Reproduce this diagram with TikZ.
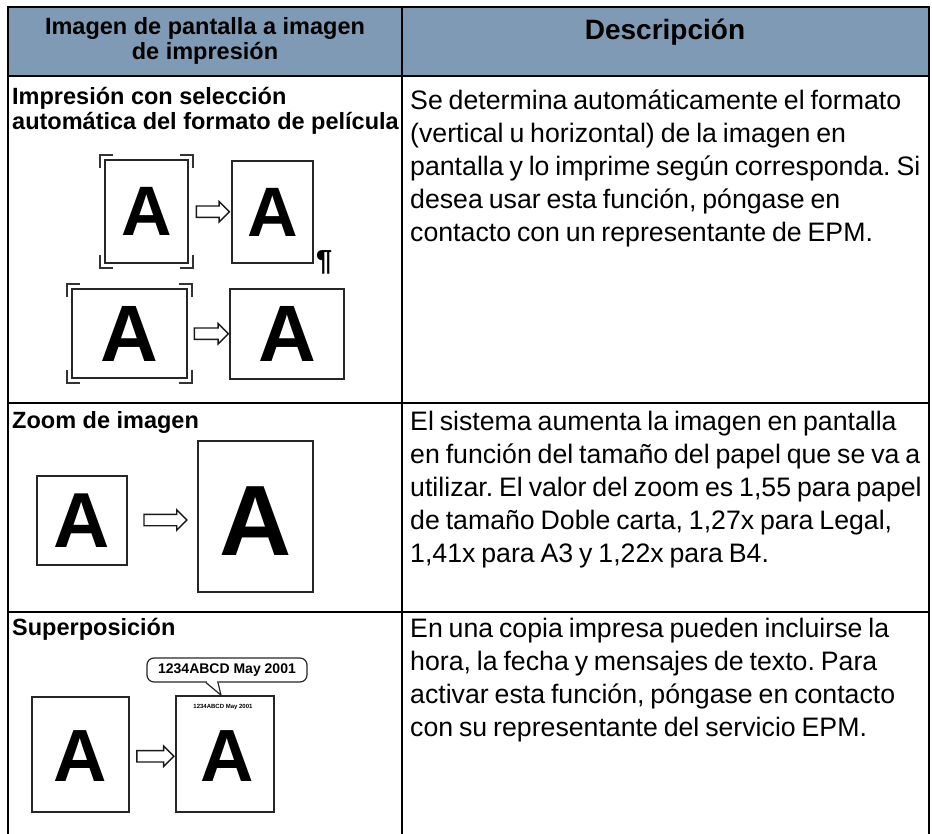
\documentclass[tikz,border=0pt]{standalone}
\usepackage{fontspec}
\setmainfont{Liberation Sans}
\usetikzlibrary{shapes.arrows,calc}
\definecolor{hdr}{RGB}{127,154,180}
\frenchspacing
\newcommand\mycorners[1]{%
 \draw[bracket] ([shift={(-4,9)}]#1.north west) -- ++(0,-13) -- ++(13,0);
 \draw[bracket] ([shift={(-9,-4)}]#1.north east) -- ++(13,0) -- ++(0,13);
 \draw[bracket] ([shift={(4,-9)}]#1.south east) -- ++(0,13) -- ++(-13,0);
 \draw[bracket] ([shift={(9,4)}]#1.south west) -- ++(-13,0) -- ++(0,-13);}
\newcommand\bodyfont{\fontsize{26.7}{33}\selectfont\spaceskip=0.22em\relax}
\begin{document}
\begin{tikzpicture}[x=1pt,y=-1pt,
  tbl/.style={line width=2pt},
  pagebox/.style={draw=black!85, line width=1.6pt, inner sep=0pt, fill=white, font=\bfseries},
  hollow/.style={single arrow, draw=black!90, line width=1.4pt, fill=white, inner sep=0pt,
     single arrow head extend=4.5pt},
  bracket/.style={line width=1.6pt, draw=black!80},
  bodytxt/.style={anchor=base west, inner sep=0pt, font=\bodyfont},
  lbl/.style={anchor=base west, inner sep=0pt, font=\fontsize{23.5}{25}\selectfont\bfseries},
  hdrl/.style={anchor=base, inner sep=0pt, font=\fontsize{23.5}{25}\selectfont\bfseries},
  hdrr/.style={anchor=base, inner sep=0pt, font=\fontsize{28}{30}\selectfont\bfseries}]
\useasboundingbox (0,0) rectangle (932,834);
% table
\fill[hdr] (8,7) rectangle (929,76);
\draw[tbl] (8,834) -- (8,7) -- (929,7) -- (929,834);
\draw[tbl] (402,7) -- (402,834);
\draw[tbl] (8,76) -- (929,76);
\draw[tbl] (8,403) -- (929,403);
\draw[tbl] (8,612) -- (929,612);
% header
\node[hdrl] (h1a) at (205,35) {Imagen de pantalla a imagen};
\node[hdrl] (h1b) at (205,60) {de impresión};
\node[hdrr] (h2) at (665,40) {Descripción};
% row 1
\node[lbl] (l1a) at (12,105) {Impresión con selección};
\node[lbl] (l1b) at (12,130) {automática del formato de película};
\node[bodytxt] (d1a) at (410,110) {Se determina automáticamente el formato};
\node[bodytxt] (d1b) at (410,143) {(vertical u horizontal) de la imagen en};
\node[bodytxt] (d1c) at (410,176) {pantalla y lo imprime según corresponda. Si};
\node[bodytxt] (d1d) at (410,209) {desea usar esta función, póngase en};
\node[bodytxt] (d1e) at (410,242) {contacto con un representante de EPM.};
\node[pagebox, minimum width=83pt, minimum height=103pt, font=\fontsize{70}{70}\selectfont\bfseries] (p1a) at (146.5,211.5) {A};
\node[pagebox, minimum width=81pt, minimum height=102pt, font=\fontsize{70}{70}\selectfont\bfseries] (p1b) at (272.5,212) {A};
\mycorners{p1a}
\node[hollow, minimum height=33pt] (a1) at ($(p1a.east)!0.5!(p1b.west)$) {\rule{0pt}{10pt}};
\node[anchor=base west, inner sep=0pt, font=\fontsize{29}{29}\selectfont\bfseries] (pil) at (316,271) {¶};
\node[pagebox, minimum width=115pt, minimum height=89pt, font=\fontsize{80}{80}\selectfont\bfseries] (p1c) at (129.5,333.5) {A};
\node[pagebox, minimum width=114pt, minimum height=90pt, font=\fontsize{80}{80}\selectfont\bfseries] (p1d) at (287,334) {A};
\mycorners{p1c}
\node[hollow, minimum height=34pt] (a2) at ($(p1c.east)!0.5!(p1d.west)$) {\rule{0pt}{10pt}};
% row 2
\node[lbl] (l2) at (12,428) {Zoom de imagen};
\node[bodytxt] (d2a) at (410,430) {El sistema aumenta la imagen en pantalla};
\node[bodytxt] (d2b) at (410,463) {en función del tamaño del papel que se va a};
\node[bodytxt] (d2c) at (410,496) {utilizar. El valor del zoom es 1,55 para papel};
\node[bodytxt] (d2d) at (410,529) {de tamaño Doble carta, 1,27x para Legal,};
\node[bodytxt] (d2e) at (410,562) {1,41x para A3 y 1,22x para B4.};
\node[pagebox, line width=2pt, minimum width=90pt, minimum height=89pt, font=\fontsize{78}{78}\selectfont\bfseries] (p2a) at (82,520.5) {A};
\node[pagebox, minimum width=115pt, minimum height=151pt] (p2b) at (255.5,516.5) {};
\node[inner sep=0pt, font=\fontsize{100}{100}\selectfont\bfseries] (p2bA) at (256,521) {A};
\node[hollow, minimum height=43pt] (a3) at ($(p2a.east)!0.5!(p2b.west)+(0,1.5)$) {\rule{0pt}{10pt}};
% row 3
\node[lbl] (l3) at (12,635) {Superposición};
\node[bodytxt] (d3a) at (410,637) {En una copia impresa pueden incluirse la};
\node[bodytxt] (d3b) at (410,670) {hora, la fecha y mensajes de texto. Para};
\node[bodytxt] (d3c) at (410,703) {activar esta función, póngase en contacto};
\node[bodytxt] (d3d) at (410,736) {con su representante del servicio EPM.};
\node[pagebox, minimum width=97pt, minimum height=115pt] (p3a) at (80.5,754.5) {};
\node[inner sep=0pt, font=\fontsize{74}{74}\selectfont\bfseries] (p3aA) at (80.5,756) {A};
\node[pagebox, minimum width=98pt, minimum height=116pt] (p3b) at (225,754) {};
\node[inner sep=0pt, font=\fontsize{74}{74}\selectfont\bfseries] (p3bA) at (227,756) {A};
\node[inner sep=0pt, font=\fontsize{6}{6}\selectfont\bfseries] (p3bt) at (223,707) {1234ABCD May 2001};
\node[hollow, minimum height=37pt] (a4) at ($(p3a.east)!0.5!(p3b.west)+(0,2)$) {\rule{0pt}{10pt}};
\node[draw=black!85, line width=1.2pt, rounded corners=7pt, minimum width=160pt, minimum height=24pt, inner sep=0pt,
      font=\fontsize{14}{14}\selectfont\bfseries] (bub) at (227,670) {1234ABCD May 2001};
\draw[white, line width=2.5pt] ([xshift=-20pt]bub.south) -- ([xshift=-10pt]bub.south);
\draw[draw=black!85, line width=1.2pt] ([xshift=-21pt]bub.south) -- ([xshift=-4pt]p3b.north) -- ([xshift=-9pt]bub.south);
\end{tikzpicture}
\end{document}
